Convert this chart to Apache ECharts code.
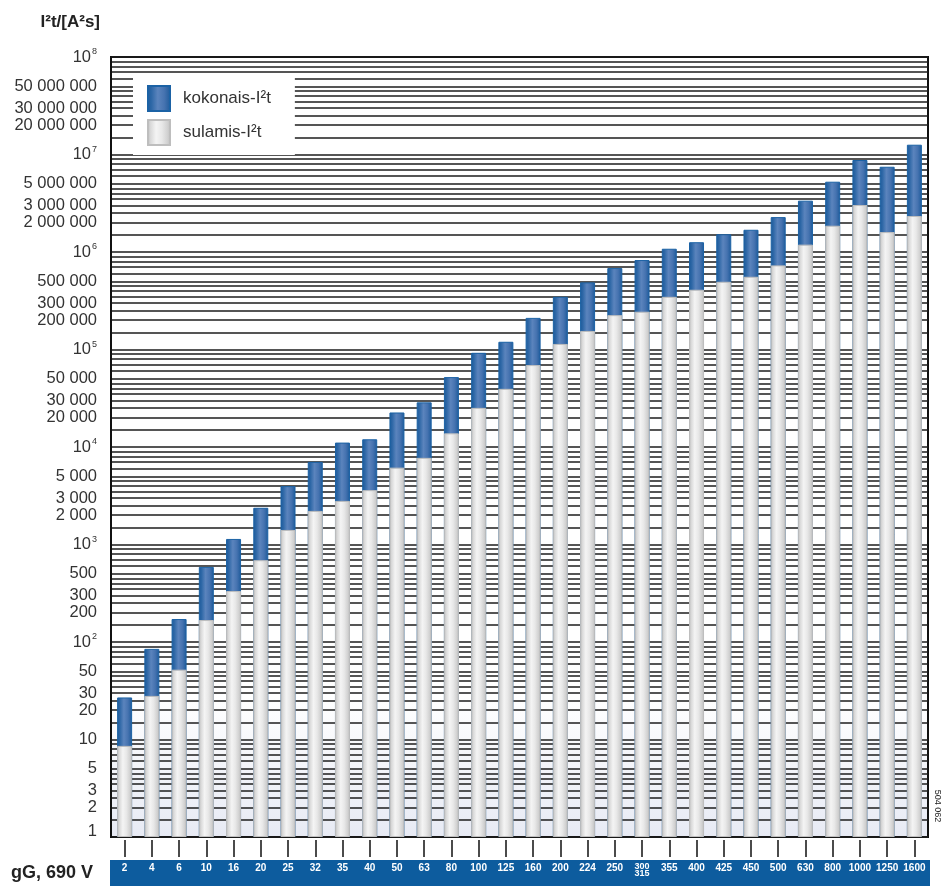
<!DOCTYPE html>
<html>
<head>
<meta charset="utf-8">
<script src="https://cdn.jsdelivr.net/npm/echarts@6/dist/echarts.min.js"></script>
<style>
  html, body { margin: 0; padding: 0; background: #ffffff; }
  #chart { width: 944px; height: 886px; }
</style>
</head>
<body>
<div id="chart"></div>
<script>
// gG fuse ratings, 690 V
const categories = ['2', '4', '6', '10', '16', '20', '25', '32', '35', '40', '50', '63', '80', '100', '125',
  '160', '200', '224', '250', '300/315', '355', '400', '425', '450', '500', '630', '800', '1000', '1250', '1600'];

// pre-arcing I²t [A²s]
const sulamisI2t = [8.6, 28, 52, 168, 333, 690, 1410, 2210, 2800, 3610, 6140, 7740, 13800, 25200, 39500,
  69200, 114000, 155000, 225000, 244000, 347000, 410000, 495000, 557000, 729000, 1190000, 1860000, 3030000, 1600000, 2340000];

// total operating I²t [A²s]
const kokonaisI2t = [27, 85, 172, 589, 1140, 2380, 3970, 7040, 11100, 12000, 22600, 28700, 52100, 92500, 120000,
  211000, 347000, 488000, 684000, 827000, 1080000, 1260000, 1520000, 1690000, 2280000, 3360000, 5260000, 8780000, 7490000, 12600000];

// labelled values on the logarithmic I²t axis
const yLabelValues = [1, 2, 3, 5, 10, 20, 30, 50, 100, 200, 300, 500,
  1e3, 2e3, 3e3, 5e3, 1e4, 2e4, 3e4, 5e4, 1e5, 2e5, 3e5, 5e5,
  1e6, 2e6, 3e6, 5e6, 1e7, 2e7, 3e7, 5e7, 1e8];

// ruling of the log paper: these mantissas in every decade
const gridMantissas = [1, 1.5, 2, 2.5, 3, 3.5, 4, 4.5, 5, 6, 7, 8, 9];
const gridDecades = [0, 1, 2, 3, 4, 5, 6, 7];
const yGridValues = [];
gridDecades.forEach(function (d) {
  gridMantissas.forEach(function (m) { yGridValues.push(m * Math.pow(10, d)); });
});
yGridValues.push(1e8);

const FONT = '"Liberation Sans", Arial, Helvetica, sans-serif';

function spaced(v) {
  return String(v).replace(/\B(?=(\d{3})+(?!\d))/g, ' ');
}
function yLabel(v) {
  if (v === 1) return '{one|1}';
  const e = Math.round(Math.log10(v));
  if (e >= 2 && Math.abs(v - Math.pow(10, e)) < 1e-6) return '{b|10}{s|' + e + '}';
  return spaced(Math.round(v));
}
function xLabel(v) {
  if (v.indexOf('/') >= 0) {
    const p = v.split('/');
    return '{t|' + p[0] + '}\n{t|' + p[1] + '}';
  }
  return v;
}

const whiteGrad = new echarts.graphic.LinearGradient(0, 0, 1, 0, [
  { offset: 0, color: '#b8b8b8' },
  { offset: 0.14, color: '#d8d8d8' },
  { offset: 0.38, color: '#f4f4f4' },
  { offset: 0.62, color: '#e8e8e8' },
  { offset: 0.88, color: '#cfcfcf' },
  { offset: 1, color: '#b5b5b5' }
]);
const blueGrad = new echarts.graphic.LinearGradient(0, 0, 1, 0, [
  { offset: 0, color: '#1d5a9a' },
  { offset: 0.18, color: '#2d67a6' },
  { offset: 0.45, color: '#5b84bd' },
  { offset: 0.72, color: '#4673b0' },
  { offset: 1, color: '#1c5999' }
]);
const plotBg = new echarts.graphic.LinearGradient(0, 0, 0, 1, [
  { offset: 0, color: '#ffffff' },
  { offset: 0.82, color: '#ffffff' },
  { offset: 1, color: '#e7eaf4' }
]);

const chart = echarts.init(document.getElementById('chart'), null, { renderer: 'canvas' });

chart.setOption({
  animation: false,
  backgroundColor: '#ffffff',
  grid: {
    left: 111, top: 57, width: 817, height: 780,
    containLabel: false,
    outerBoundsMode: 'none',
    show: true,
    backgroundColor: plotBg,
    borderColor: '#111111',
    borderWidth: 2
  },
  legend: {
    data: ['kokonais-I²t', 'sulamis-I²t'],
    orient: 'vertical',
    left: 133, top: 76,
    padding: [9, 24, 9, 14],
    itemWidth: 22, itemHeight: 25, itemGap: 7,
    icon: 'rect',
    backgroundColor: '#ffffff',
    selectedMode: false,
    textStyle: { fontFamily: FONT, fontSize: 17, color: '#333333', padding: [0, 0, 0, 8], width: 90 }
  },
  xAxis: {
    type: 'category',
    data: categories,
    offset: 3,
    axisLine: { show: false },
    axisTick: { show: true, alignWithLabel: true, length: 17, lineStyle: { color: '#111111', width: 1.5 } },
    splitLine: { show: false },
    axisLabel: {
      interval: 0, hideOverlap: false, margin: 23,
      color: '#ffffff', fontFamily: FONT, fontSize: 10, fontWeight: 'bold',
      formatter: xLabel,
      rich: { t: { fontFamily: FONT, fontSize: 9, lineHeight: 7, fontWeight: 'bold', color: '#ffffff' } }
    }
  },
  yAxis: {
    type: 'log', logBase: 10, min: 1, max: 1e8,
    axisLine: { show: true, lineStyle: { color: '#111111', width: 2 } },
    axisTick: { show: false, customValues: yGridValues },
    splitLine: { show: true, lineStyle: { color: '#1c1c1c', width: 1.5 } },
    minorSplitLine: { show: false },
    axisLabel: {
      customValues: yLabelValues,
      formatter: yLabel,
      margin: 14,
      fontFamily: FONT, fontSize: 16.5, color: '#333333',
      rich: {
        b: { fontFamily: FONT, fontSize: 16.5, color: '#333333' },
        s: { fontFamily: FONT, fontSize: 9, color: '#333333', verticalAlign: 'top', padding: [0, 0, 10, 1] },
        one: { fontFamily: FONT, fontSize: 16.5, color: '#333333', padding: [0, 0, 11, 0] }
      }
    }
  },
  series: [
    {
      name: 'kokonais-I²t', type: 'bar', data: kokonaisI2t,
      barWidth: 15, barGap: '-100%',
      itemStyle: { color: blueGrad, borderColor: '#1b62a5', borderWidth: 1 }
    },
    {
      name: 'sulamis-I²t', type: 'bar', data: sulamisI2t,
      barWidth: 15, barGap: '-100%',
      itemStyle: { color: whiteGrad, borderColor: '#bebebe', borderWidth: 1 }
    }
  ],
  graphic: [
    { type: 'rect', z: -10, shape: { x: 110, y: 860, width: 820, height: 26 }, style: { fill: '#0d5c9e' } },
    { type: 'text', x: 100, y: 22, style: { text: 'I²t/[A²s]', font: 'bold 17px ' + FONT, fill: '#222222', align: 'right', verticalAlign: 'middle' } },
    { type: 'text', x: 11, y: 873, style: { text: 'gG, 690 V', font: 'bold 18px ' + FONT, fill: '#222222', align: 'left', verticalAlign: 'middle' } },
    { type: 'text', x: 937, y: 806, rotation: -Math.PI / 2, style: { text: '504 062', font: '9px ' + FONT, fill: '#222222', align: 'center', verticalAlign: 'middle' } }
  ]
});
</script>
</body>
</html>
